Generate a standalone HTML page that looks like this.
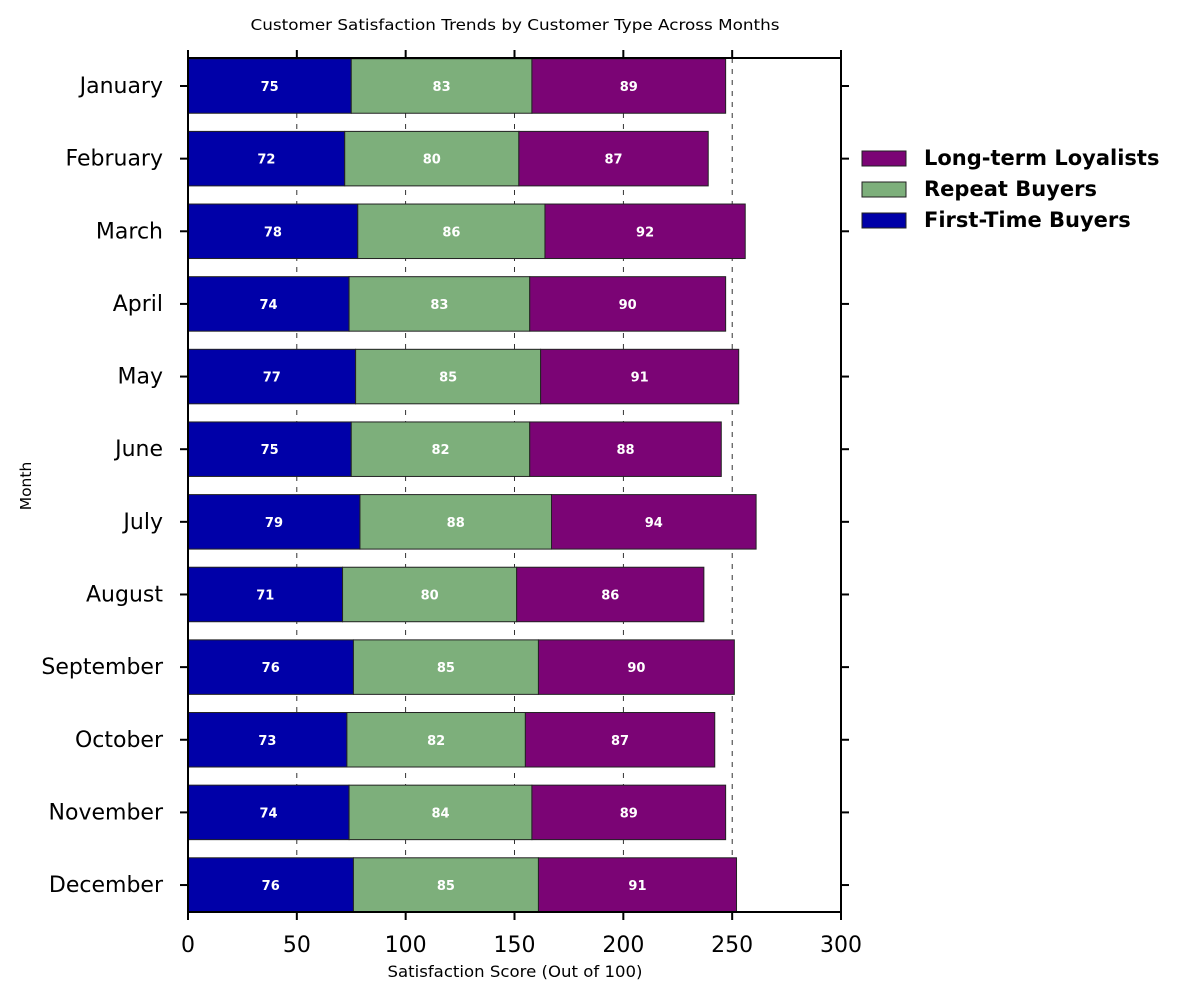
<!DOCTYPE html>
<html><head><meta charset="utf-8"><style>
html,body{margin:0;padding:0;background:#fff;}
svg{display:block;font-family:"DejaVu Sans","Liberation Sans",sans-serif;}
</style></head><body>
<svg id="chart" width="1200" height="1000" viewBox="0 0 1200 1000">
<text x="515" y="30" text-anchor="middle" font-size="15" textLength="529" lengthAdjust="spacingAndGlyphs">Customer Satisfaction Trends by Customer Type Across Months</text>
<g id="grid"></g>
<g id="bars"></g>
<rect x="188" y="58" width="653" height="854" fill="none" stroke="#000" stroke-width="2"/>
<g id="axes"></g>
<text x="515" y="977" text-anchor="middle" font-size="16" textLength="255" lengthAdjust="spacingAndGlyphs">Satisfaction Score (Out of 100)</text>
<text transform="translate(31,486) rotate(-90)" text-anchor="middle" font-size="15.5">Month</text>
<g id="legend"></g>
</svg>
<script>
const months=["January","February","March","April","May","June","July","August","September","October","November","December"];
const firstTime=[75,72,78,74,77,75,79,71,76,73,74,76];
const repeat=[83,80,86,83,85,82,88,80,85,82,84,85];
const loyal=[89,87,92,90,91,88,94,86,90,87,89,91];
const xTicks=[0,50,100,150,200,250,300];
const seriesNames=["First-Time Buyers","Repeat Buyers","Long-term Loyalists"];
const colors=["#0000a8","#7daf7b","#7b0475"];
const NS="http://www.w3.org/2000/svg";
const X0=188,X1=841,XMAX=300;
const xs=v=>X0+(X1-X0)*v/XMAX;
const yc=i=>86+i*72.64;
const BH=54.5;
function mk(tag,attrs,parent){const e=document.createElementNS(NS,tag);for(const k in attrs)e.setAttribute(k,attrs[k]);parent.appendChild(e);return e;}
const grid=document.getElementById('grid'),bars=document.getElementById('bars'),axes=document.getElementById('axes'),legend=document.getElementById('legend');
xTicks.forEach(t=>{
  if(t>0&&t<XMAX){const l=mk('line',{x1:xs(t),x2:xs(t),y1:58,y2:912,stroke:'#000','stroke-width':0.8,'stroke-dasharray':'5,6'},grid);
  
  }
  const tb=mk('line',{x1:xs(t),x2:xs(t),y1:912,y2:920,stroke:'#000','stroke-width':2},axes);
  
  
  const tt=mk('line',{x1:xs(t),x2:xs(t),y1:50,y2:58,stroke:'#000','stroke-width':2},axes);
  
  
  const lb=mk('text',{x:xs(t),y:952,'text-anchor':'middle','font-size':22},axes);
  lb.textContent=t;
  
  
});
const series=[firstTime,repeat,loyal];
months.forEach((m,i)=>{
  const y=yc(i);
  let acc=0;
  series.forEach((s,k)=>{
    const v=s[i];
    const r=mk('rect',{x:xs(acc),y:y-BH/2,width:xs(acc+v)-xs(acc),height:BH,fill:colors[k],stroke:'#222','stroke-width':1},bars);
    
    
    const t=mk('text',{x:xs(acc+v/2),y:y+5,'text-anchor':'middle','font-size':13,'font-weight':'bold',fill:'#fff'},bars);
    t.textContent=v;
    
    
    acc+=v;
  });
  const tl=mk('line',{x1:180,x2:188,y1:y,y2:y,stroke:'#000','stroke-width':2},axes);
  
  
  const tr=mk('line',{x1:841,x2:849,y1:y,y2:y,stroke:'#000','stroke-width':2},axes);
  
  
  const lb=mk('text',{x:163,y:y+7,'text-anchor':'end','font-size':22},axes);
  lb.textContent=m;
  
  
});
[2,1,0].forEach((k,j)=>{
  const y=158+j*31;
  const r=mk('rect',{x:862,y:y-7,width:44,height:15,fill:colors[k],stroke:'#222','stroke-width':1},legend);
  
  
  const t=mk('text',{x:924,y:y+7,'font-size':21,'font-weight':'bold'},legend);
  t.textContent=seriesNames[k];
  
  
});
</script>
</body></html>
